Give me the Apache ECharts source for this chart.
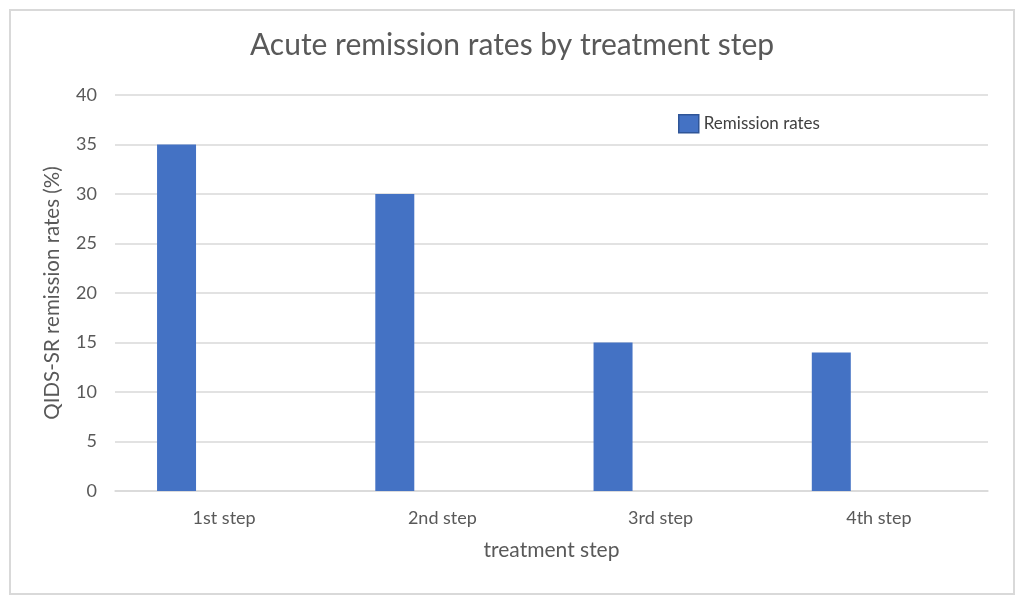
<!DOCTYPE html>
<html>
<head>
<meta charset="utf-8">
<script src="https://cdn.jsdelivr.net/npm/echarts@6/dist/echarts.min.js"></script>
<style>
  html, body { margin: 0; padding: 0; background: #fff; }
  #chart { width: 1024px; height: 604px; }
</style>
</head>
<body>
<div id="chart"></div>
<script>
const steps = ['1st step', '2nd step', '3rd step', '4th step']
const remissionRates = [35, 30, 15, 14]
// Excel chart keeps a second, empty series which pushes the bars left
const emptySeries = [null, null, null, null]
const yTicks = { min: 0, max: 40, interval: 5 }

const chart = echarts.init(document.getElementById('chart'))
const font = 'Lato, "Open Sans", sans-serif'
const grey = '#595959'

chart.setOption({
  animation: false,
  textStyle: { fontFamily: font },
  graphic: [{
    type: 'rect',
    shape: { x: 10, y: 10, width: 1004, height: 584 },
    style: { fill: 'none', stroke: '#d9d9d9', lineWidth: 2 }
  }],
  title: {
    text: 'Acute remission rates by treatment step',
    left: 'center',
    top: 25,
    textStyle: { fontFamily: font, fontSize: 30, fontWeight: 'normal', color: grey }
  },
  legend: {
    data: ['Remission rates'],
    left: 673,
    top: 109,
    icon: 'rect',
    itemWidth: 20,
    itemHeight: 18,
    itemGap: 10,
    itemStyle: { borderColor: '#2f5597', borderWidth: 1.5 },
    textStyle: { fontFamily: font, fontSize: 17, color: '#404040' }
  },
  grid: { left: 115, right: 36, top: 95, bottom: 113 },
  xAxis: {
    type: 'category',
    data: steps,
    name: 'treatment step',
    nameLocation: 'middle',
    nameGap: 49,
    nameTextStyle: { fontSize: 21, color: grey },
    axisTick: { show: false },
    axisLine: { lineStyle: { color: '#d9d9d9', width: 1.5 } },
    axisLabel: { fontSize: 18, color: grey, margin: 18 }
  },
  yAxis: {
    type: 'value',
    min: yTicks.min,
    max: yTicks.max,
    interval: yTicks.interval,
    name: 'QIDS-SR remission rates (%)',
    nameLocation: 'middle',
    nameGap: 52,
    nameTextStyle: { fontSize: 20.5, color: grey },
    axisLine: { show: false },
    axisTick: { show: false },
    axisLabel: { fontSize: 18, color: grey, margin: 18 },
    splitLine: { lineStyle: { color: '#d9d9d9', width: 1.5 } }
  },
  series: [
    {
      name: 'Remission rates',
      type: 'bar',
      data: remissionRates,
      barWidth: 39,
      barGap: '144%',
      itemStyle: { color: '#4472c4' }
    },
    {
      name: '',
      type: 'bar',
      data: emptySeries,
      barWidth: 39,
      barGap: '144%',
      itemStyle: { color: '#ed7d31' }
    }
  ]
})
</script>
</body>
</html>
